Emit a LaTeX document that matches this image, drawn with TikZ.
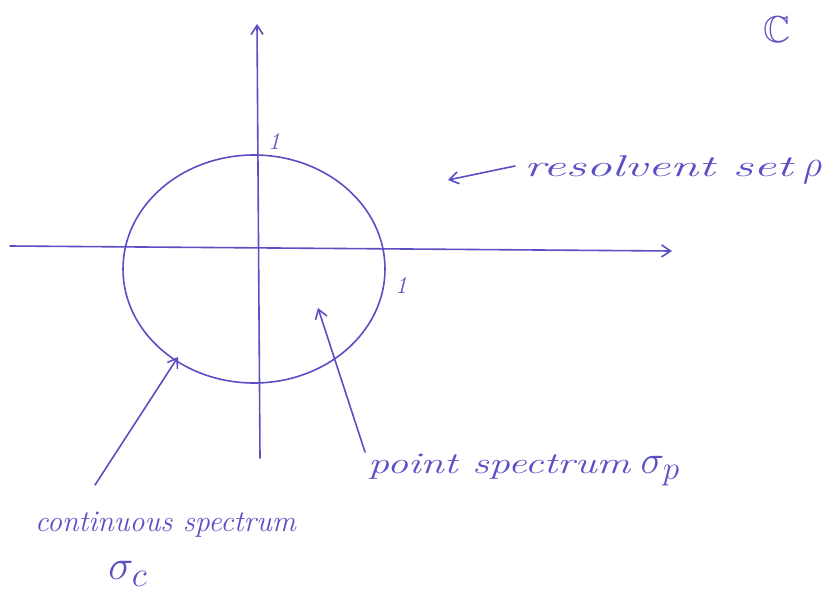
\documentclass[tikz,border=0pt]{standalone}
\usepackage{amssymb}
\usepackage{fontspec}
\usetikzlibrary{arrows.meta,shapes.geometric}
\definecolor{ink}{HTML}{5A4FC4}
\newcommand{\bigmath}[2]{\scalebox{#1}{$#2$}}
\begin{document}
\begin{tikzpicture}[x=1pt,y=-1pt,
  pen/.style={draw=ink,line width=1.6pt,line cap=round},
  arr/.style={pen,-{Straight Barb[length=9pt,width=12pt]}},
  lbl/.style={text=ink,font=\itshape\fontsize{30}{34}\selectfont,inner sep=0pt}]
\useasboundingbox (0,0) rectangle (833,606);
\coordinate (vb) at (260,458);
\coordinate (vt) at (257,24);
\coordinate (hl) at (10,246);
\coordinate (hr) at (672,251);
\draw[arr] (vb) -- (vt);
\draw[arr] (hl) -- (hr);
\node[pen,ellipse,minimum width=262pt,minimum height=228pt,inner sep=0pt] (disk) at (254,269) {};
\node[lbl,font=\itshape\fontsize{24}{26}\selectfont] (one1) at (274,142) {1};
\node[lbl,font=\itshape\fontsize{24}{26}\selectfont] (one2) at (401,286) {1};
\node[lbl] (C) at (777,30) {\bigmath{1.25}{\mathbb{C}}};
\node[lbl,anchor=west] (res) at (524,170) {\scalebox{1.7}[1]{resolvent set} \bigmath{1.5}{\rho}};
\coordinate (resarr) at (448,180);
\draw[arr] (515,166) coordinate (resstart) -- (resarr);
\node[lbl,anchor=west] (pt) at (368,470) {\scalebox{1.4}[1]{point spectrum} \bigmath{1.6}{\sigma_p}};
\coordinate (ptarr) at (318,308);
\coordinate (ptstart) at (365,452);
\draw[arr] (ptstart) -- (ptarr);
\node[lbl,anchor=west] (cont) at (35,525) {continuous spectrum};
\node[lbl] (sc) at (128,574) {\bigmath{1.7}{\sigma_c}};
\coordinate (contarr) at (178,357);
\coordinate (contstart) at (95,485);
\draw[arr] (contstart) -- (contarr);
\end{tikzpicture}
\end{document}
